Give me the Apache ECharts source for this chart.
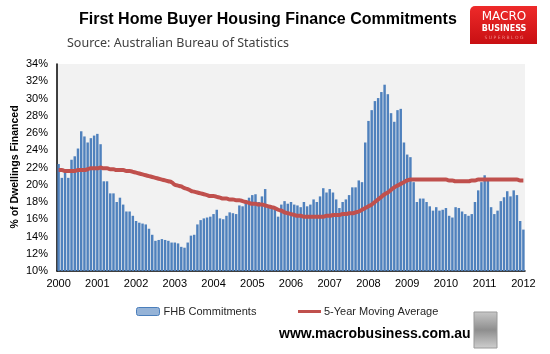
<!DOCTYPE html>
<html>
<head>
<meta charset="utf-8">
<title>First Home Buyer Housing Finance Commitments</title>
<script src="https://cdn.jsdelivr.net/npm/echarts@6/dist/echarts.min.js"></script>
<style>
    html,body{margin:0;padding:0;background:#fff;}
    #fhbChart{width:550px;height:354px;}
</style>
</head>
<body>
<div id="fhbChart"></div>
<script>
//年份 2000-2012 (每月一根柱)
var years=['2000','2001','2002','2003','2004','2005','2006','2007','2008','2009','2010','2011','2012'];
var yTicks=[10,12,14,16,18,20,22,24,26,28,30,32,34];
//首次购房者占比 %
var fhbCommitments=[
    22.4,20.8,21.5,20.8,22.9,23.3,24.2,26.2,25.6,24.9,25.4,25.7,
    25.9,24.7,20.4,20.4,19.0,19.0,18.0,18.5,17.7,16.9,16.9,16.4,
    15.8,15.6,15.5,15.4,14.9,14.2,13.5,13.6,13.7,13.6,13.5,13.3,
    13.3,13.2,12.8,12.7,13.3,14.1,14.2,15.4,15.9,16.1,16.2,16.3,
    16.6,17.1,16.1,16.0,16.4,16.8,16.7,16.6,17.6,17.5,18.2,18.5,
    18.8,18.9,18.0,18.65,19.5,17.4,17.4,17.1,16.3,17.7,18.1,17.8,
    18.0,17.7,17.6,17.4,18.0,17.5,17.7,18.3,18.0,18.65,19.6,19.1,
    19.5,19.1,18.3,17.3,18.0,18.3,18.8,19.7,19.7,20.5,20.3,24.9,
    27.4,28.65,29.7,30.05,30.75,31.6,30.5,28.3,27.3,28.65,28.8,24.9,
    23.5,23.2,20.3,18.0,18.4,18.4,18.0,17.5,17.0,17.4,17.0,17.1,
    17.3,16.4,16.2,17.4,17.3,16.9,16.6,16.4,16.6,18.0,19.35,20.3,
    21.1,20.5,17.4,16.6,17.0,18.1,18.55,19.25,18.65,19.35,18.8,15.8,
    14.8
];
//5年移动平均
var movingAvg=[
    21.7,21.7,21.6,21.6,21.6,21.6,21.7,21.7,21.7,21.8,21.9,21.9,
    21.9,22.0,21.9,21.9,21.8,21.8,21.7,21.7,21.7,21.6,21.6,21.5,
    21.4,21.3,21.2,21.1,21.0,20.9,20.8,20.7,20.6,20.5,20.4,20.3,
    20.0,19.9,19.8,19.6,19.5,19.3,19.2,19.1,19.0,18.9,18.8,18.7,
    18.7,18.6,18.5,18.4,18.4,18.3,18.3,18.2,18.2,18.1,18.0,17.9,
    17.8,17.8,17.7,17.7,17.6,17.5,17.4,17.3,17.1,17.0,16.8,16.7,
    16.6,16.5,16.4,16.4,16.3,16.3,16.3,16.3,16.3,16.3,16.3,16.4,
    16.4,16.5,16.5,16.5,16.6,16.6,16.7,16.7,16.8,16.9,17.1,17.3,
    17.5,17.7,18.0,18.3,18.6,18.9,19.1,19.4,19.7,19.9,20.1,20.3,
    20.5,20.6,20.6,20.6,20.6,20.6,20.6,20.6,20.6,20.6,20.6,20.6,
    20.6,20.5,20.5,20.4,20.4,20.4,20.4,20.4,20.5,20.5,20.6,20.6,
    20.6,20.6,20.6,20.6,20.6,20.6,20.6,20.6,20.6,20.6,20.6,20.5,
    20.5
];

//月份类目
var months=[];
for(var i=0;i<fhbCommitments.length;i++){
    months.push(years[Math.floor(i/12)]+'-'+(i%12+1));
}

var fhbChart=echarts.init(document.getElementById('fhbChart'));
var option={
    backgroundColor:'#fff',
    animation:false,
    grid:{
        left:57,
        right:25,
        top:64,
        bottom:83,
        show:true,
        backgroundColor:'#F2F2F2',
        borderWidth:0
    },
    legend:[
        {
            left:131,
            top:301,
            itemWidth:23,
            itemHeight:8,
            itemGap:4,
            textStyle:{fontFamily:'Liberation Sans',fontSize:11,color:'#262626',padding:[0,0,0,-1]},
            data:[{name:'FHB Commitments',itemStyle:{color:'#95B3D7',borderColor:'#4A7EBB',borderWidth:1}}]
        },
        {
            left:293,
            top:301,
            itemWidth:23,
            itemHeight:3,
            icon:'rect',
            textStyle:{fontFamily:'Liberation Sans',fontSize:11,color:'#262626',padding:[0,0,0,-2]},
            data:['5-Year Moving Average']
        }
    ],
    xAxis:{
        type:'category',
        data:months,
        axisLine:{lineStyle:{color:'#000',width:1.5}},
        axisTick:{show:false},
        axisLabel:{
            interval:function(index){return index%12===0;},
            formatter:function(v){return v.split('-')[0];},
            color:'#000',
            fontFamily:'Liberation Sans',
            fontSize:11,
            margin:7
        },
        splitLine:{show:false}
    },
    yAxis:{
        type:'value',
        min:yTicks[0],
        max:yTicks[yTicks.length-1],
        interval:2,
        axisLine:{show:true,lineStyle:{color:'#000',width:1.5}},
        axisTick:{show:false},
        axisLabel:{
            formatter:'{value}%',
            color:'#000',
            fontFamily:'Liberation Sans',
            fontSize:11,
            margin:9
        },
        splitLine:{show:false}
    },
    series:[
        {
            name:'FHB Commitments',
            type:'bar',
            data:fhbCommitments,
            barCategoryGap:'24%',
            itemStyle:{color:'#4F81BD'}
        },
        {
            name:'5-Year Moving Average',
            type:'line',
            data:movingAvg,
            smooth:true,
            showSymbol:false,
            symbol:'none',
            itemStyle:{color:'#C0504D'},
            lineStyle:{color:'#C0504D',width:4}
        }
    ],
    graphic:[
        {
            type:'text',
            left:79,
            top:12,
            style:{text:'First Home Buyer Housing Finance Commitments',font:'bold 16px "Liberation Sans"',fill:'#000'}
        },
        {
            type:'text',
            left:67,
            top:37,
            style:{text:'Source: Australian Bureau of Statistics',font:'12.5px "Noto Sans"',fill:'#404040'}
        },
        //logo
        {
            type:'rect',
            shape:{x:470,y:6,width:67,height:38,r:[5,0,0,0]},
            style:{fill:new echarts.graphic.LinearGradient(0,0,0,1,[{offset:0,color:'#EE2A2A'},{offset:1,color:'#C80F12'}])}
        },
        {
            type:'text',
            x:504,y:17,
            style:{text:'MACRO',font:'12px "DejaVu Sans"',fill:'#fff',textAlign:'center',textVerticalAlign:'middle'}
        },
        {
            type:'text',
            x:504,y:29,
            style:{text:'BUSINESS',font:'bold 8px "DejaVu Sans"',fill:'#fff',textAlign:'center',textVerticalAlign:'middle'}
        },
        {
            type:'text',
            x:504,y:38,
            style:{text:'S U P E R B L O G',font:'4.5px "DejaVu Sans"',fill:'#F28A8A',textAlign:'center',textVerticalAlign:'middle'}
        },
        //y轴标题
        {
            type:'text',
            x:15,y:167,
            rotation:Math.PI/2,
            style:{text:'% of Dwellings Financed',font:'bold 10.5px "Liberation Sans"',fill:'#000',textAlign:'center',textVerticalAlign:'middle'}
        },
        {
            type:'text',
            left:279,
            top:327,
            style:{text:'www.macrobusiness.com.au',font:'bold 14px "Liberation Sans"',fill:'#000'}
        },
        //狼头图片位置
        {
            type:'rect',
            shape:{x:474,y:312,width:23,height:36},
            style:{fill:new echarts.graphic.LinearGradient(0,0,0,1,[{offset:0,color:'#C8C8C8'},{offset:0.5,color:'#8E8E8E'},{offset:1,color:'#D0D0D0'}]),stroke:'#999',lineWidth:1}
        }
    ]
};
fhbChart.setOption(option);
</script>
</body>
</html>
